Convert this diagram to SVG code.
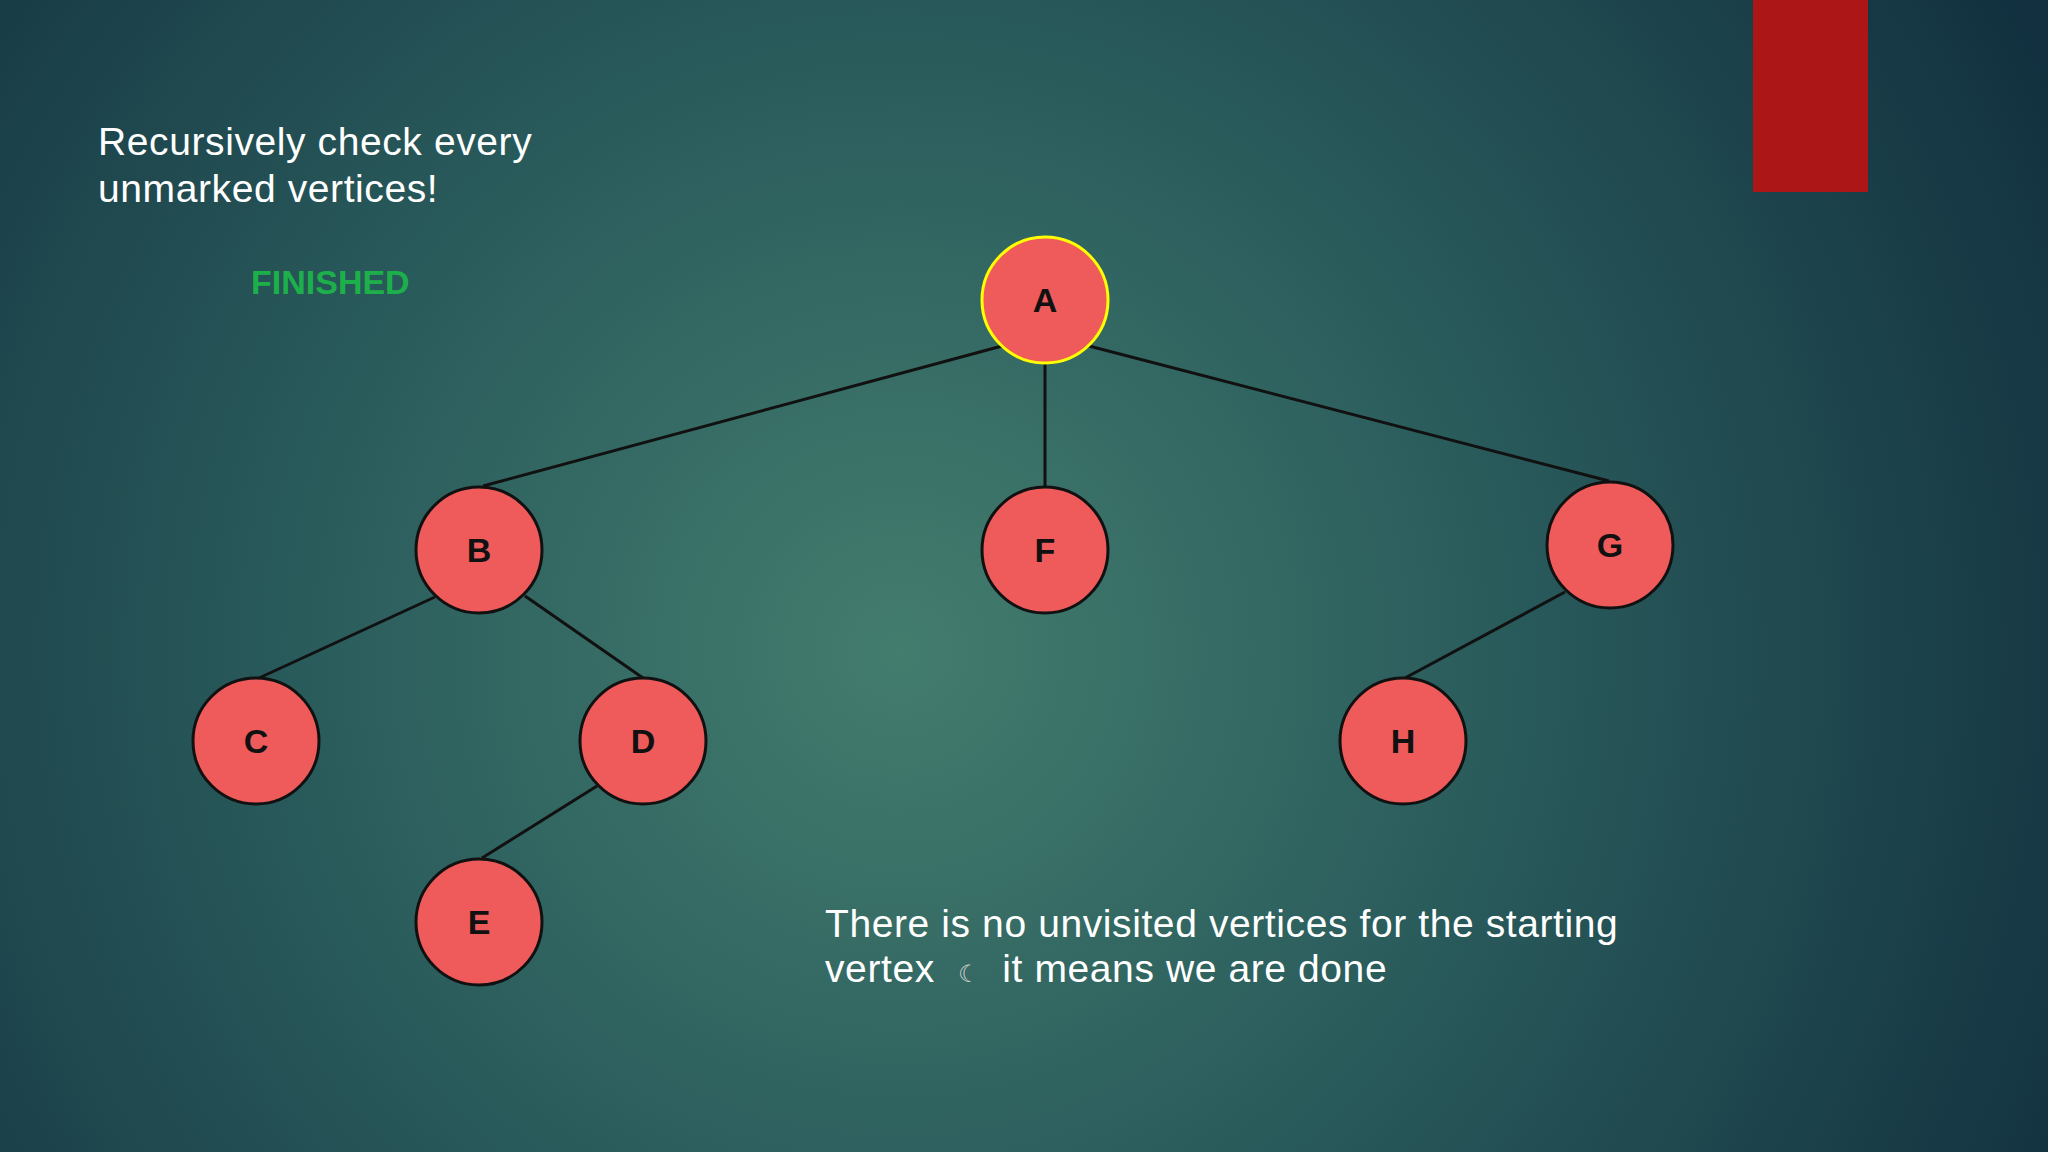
<svg xmlns="http://www.w3.org/2000/svg" width="2048" height="1152" viewBox="0 0 2048 1152">
<defs>
<radialGradient id="bg" cx="900" cy="650" r="1300" gradientUnits="userSpaceOnUse">
<stop offset="0" stop-color="#437d6e"/>
<stop offset="0.45" stop-color="#2a5c5c"/>
<stop offset="1" stop-color="#12303f"/>
</radialGradient>
<style>
.n{fill:#ef5a5a;stroke:#111;stroke-width:3}
.l{font-family:"Liberation Sans",Arial,sans-serif;font-weight:bold;font-size:34px;fill:#111;text-anchor:middle}
.t{font-family:"Liberation Sans",Arial,sans-serif;font-size:39px;fill:#fff;letter-spacing:0.6px}
.e{stroke:#111;stroke-width:3;fill:none}
</style>
</defs>
<rect width="2048" height="1152" fill="url(#bg)"/>
<rect x="1753" y="0" width="115" height="192" fill="#ad1616"/>
<text class="t" x="98" y="155">Recursively check every</text>
<text class="t" x="98" y="202">unmarked vertices!</text>
<text x="251" y="294" font-family="Liberation Sans,Arial,sans-serif" font-weight="bold" font-size="34" fill="#1db04a">FINISHED</text>
<text class="t" x="825" y="937">There is no unvisited vertices for the starting</text>
<text class="t" x="825" y="982">vertex <tspan dx="12" font-size="24" fill="#ccc">☾</tspan> <tspan dx="10">it means we are done</tspan></text>
<g id="edges">
<line class="e" x1="1002" y1="346" x2="483" y2="486"/>
<line class="e" x1="1045" y1="363" x2="1045" y2="487"/>
<line class="e" x1="1089" y1="346" x2="1609" y2="481"/>
<line class="e" x1="435" y1="597" x2="259" y2="678"/>
<line class="e" x1="525" y1="596" x2="643" y2="678"/>
<line class="e" x1="597" y1="786" x2="482" y2="858"/>
<line class="e" x1="1565" y1="592" x2="1405" y2="678"/>
</g>
<g id="A"><circle class="n" cx="1045" cy="300" r="63" style="stroke:#ffff00"/><text class="l" x="1045" y="312">A</text></g>
<g id="B"><circle class="n" cx="479" cy="550" r="63"/><text class="l" x="479" y="562">B</text></g>
<g id="F"><circle class="n" cx="1045" cy="550" r="63"/><text class="l" x="1045" y="562">F</text></g>
<g id="G"><circle class="n" cx="1610" cy="545" r="63"/><text class="l" x="1610" y="557">G</text></g>
<g id="C"><circle class="n" cx="256" cy="741" r="63"/><text class="l" x="256" y="753">C</text></g>
<g id="D"><circle class="n" cx="643" cy="741" r="63"/><text class="l" x="643" y="753">D</text></g>
<g id="H"><circle class="n" cx="1403" cy="741" r="63"/><text class="l" x="1403" y="753">H</text></g>
<g id="E"><circle class="n" cx="479" cy="922" r="63"/><text class="l" x="479" y="934">E</text></g>
</svg>
